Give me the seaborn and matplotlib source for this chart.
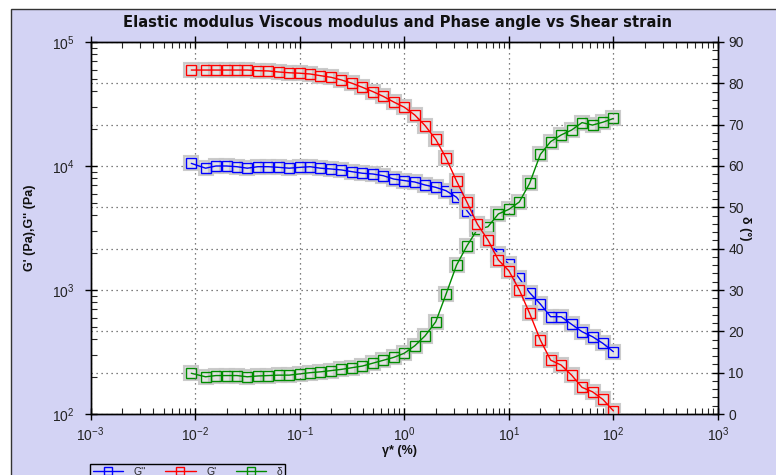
import numpy as np
import pandas as pd
import matplotlib
matplotlib.use("Agg")
import matplotlib.pyplot as plt
import seaborn as sns
from matplotlib.lines import Line2D
from matplotlib.patches import Rectangle
from matplotlib.ticker import LogLocator, MultipleLocator, NullFormatter

# ---------------- data ----------------
strain = [0.0092, 0.0126, 0.0158, 0.0200, 0.0251, 0.0316, 0.0398, 0.0501, 0.0631, 0.0794,
          0.100, 0.126, 0.158, 0.200, 0.251, 0.316, 0.398, 0.501, 0.631, 0.794,
          1.00, 1.26, 1.58, 2.00, 2.51, 3.16, 3.98, 5.01, 6.31, 7.94,
          10.0, 12.6, 15.8, 20.0, 25.1, 31.6, 39.8, 50.1, 63.1, 79.4, 100.0]

g_loss = [10500, 9600, 10000, 10000, 9870, 9600, 9870, 9870, 9750, 9600,
          9750, 9870, 9600, 9460, 9290, 9000, 8740, 8620, 8350, 7850,
          7630, 7430, 7030, 6730, 6320, 5600, 4360, 3400, 2530, 1950,
          1620, 1240, 951, 771, 609, 609, 529, 461, 420, 371, 318]

g_storage = [59400, 59400, 59400, 59400, 59400, 59400, 58700, 58400, 57300, 56500,
             56000, 55200, 53500, 51900, 49400, 46500, 43100, 39800, 36400, 32800,
             29800, 25800, 21200, 16400, 11600, 7570, 5100, 3390, 2530, 1745,
             1430, 1000, 649, 395, 272, 248, 206, 164, 151, 131, 106]

phase = [9.85, 9.0, 9.3, 9.3, 9.3, 9.0, 9.2, 9.3, 9.4, 9.4,
         9.7, 10.0, 10.2, 10.5, 10.8, 11.2, 11.6, 12.3, 13.0, 13.7,
         14.7, 16.5, 18.9, 22.3, 29.0, 36.0, 40.7, 44.7, 45.3, 48.4,
         49.5, 51.3, 55.8, 62.8, 65.9, 67.5, 68.7, 70.5, 69.9, 70.6, 71.5]

series_labels = ["G''", "G'", "\u03b4"]
series_colors = ["#0000ff", "#ff0000", "#008c00"]

title = "Elastic modulus Viscous modulus and Phase angle vs Shear strain"
xlabel = "\u03b3* (%)"
ylabel_left = "G' (Pa),G'' (Pa)"
ylabel_right = "\u03b4 (\u00b0)"

df = pd.DataFrame({"strain": strain, "Gpp": g_loss, "Gp": g_storage, "delta": phase})

# ---------------- style ----------------
sns.set_theme(style="white")
plt.rcParams["font.family"] = ["Liberation Sans", "DejaVu Sans"]
plt.rcParams["mathtext.fontset"] = "custom"
plt.rcParams["mathtext.rm"] = "Liberation Sans"
plt.rcParams["mathtext.it"] = "Liberation Sans:italic"
plt.rcParams["mathtext.bf"] = "Liberation Sans:bold"

W, H = 776, 475
lav = "#d3d3f4"
fig = plt.figure(figsize=(W / 100, H / 100), dpi=100, facecolor="white")
fig.patches.append(Rectangle((11 / W, -0.1), 1.2, 1 - 9 / H + 0.1, transform=fig.transFigure,
                             facecolor=lav, edgecolor="#333333", lw=1.0, zorder=-10))

x0, x1, y0, y1 = 90.5, 718, 42, 414
ax = fig.add_axes([x0 / W, 1 - y1 / H, (x1 - x0) / W, (y1 - y0) / H])
ax2 = ax.twinx()
ax.set_zorder(ax2.get_zorder() + 1)
ax.patch.set_visible(False)
ax2.patch.set_visible(True)
ax2.patch.set_facecolor("white")

halo = dict(lw=0, marker="s", markersize=10, markerfacecolor="#e0e0e0",
            markeredgecolor="#c6c6c6", markeredgewidth=1.5, alpha=0.9)

def draw(axis, ycol, color):
    sns.lineplot(data=df, x="strain", y=ycol, ax=axis, legend=False, color="gray", **halo)
    sns.lineplot(data=df, x="strain", y=ycol, ax=axis, legend=False, color=color, lw=1.0,
                 marker="s", markersize=6.5, markerfacecolor="none",
                 markeredgecolor=color, markeredgewidth=1.0)

draw(ax2, "delta", series_colors[2])
draw(ax, "Gpp", series_colors[0])
draw(ax, "Gp", series_colors[1])

ax.set_xscale("log")
ax.set_yscale("log")
ax.set_xlim(1e-3, 1e3)
ax.set_ylim(1e2, 1e5)
ax2.set_ylim(0, 90)

ax.xaxis.set_major_locator(LogLocator(base=10, numticks=10))
ax.xaxis.set_minor_locator(LogLocator(base=10, subs=np.arange(2, 10), numticks=20))
ax.xaxis.set_minor_formatter(NullFormatter())
ax.yaxis.set_major_locator(LogLocator(base=10, numticks=10))
ax.yaxis.set_minor_locator(LogLocator(base=10, subs=np.arange(2, 10), numticks=20))
ax.yaxis.set_minor_formatter(NullFormatter())
ax2.yaxis.set_major_locator(MultipleLocator(10))
ax2.yaxis.set_minor_locator(MultipleLocator(2))

tc = "#222222"
ax.tick_params(axis="x", which="major", direction="inout", length=9, width=1, top=True,
               bottom=True, labelsize=10, pad=4, colors="black", labelcolor=tc)
ax.tick_params(axis="x", which="minor", direction="in", length=4, width=0.8, top=True, bottom=True)
ax.tick_params(axis="y", which="major", direction="inout", length=9, width=1, left=True,
               right=False, labelsize=10, pad=7, colors="black", labelcolor=tc)
ax.tick_params(axis="y", which="minor", direction="in", length=4, width=0.8, left=True, right=False)
ax2.tick_params(axis="y", which="major", direction="inout", length=9, width=1, right=True,
                left=False, labelsize=10, pad=3, colors="black", labelcolor=tc)
ax2.tick_params(axis="y", which="minor", direction="in", length=4, width=0.8, right=True, left=False)

ax.set_xlabel("")
ax.set_ylabel("")
ax2.set_ylabel("")

ax.grid(True, which="major", axis="x", linestyle=(0, (1, 3)), color="#555555", lw=0.9)
ax.grid(False, axis="y")
ax2.grid(True, which="major", axis="y", linestyle=(0, (1, 3)), color="#555555", lw=0.9)

for a in (ax, ax2):
    for s in a.spines.values():
        s.set_color("black")
        s.set_linewidth(1.0)

fig.text(398 / W, 1 - 22 / H, title, ha="center", va="center", fontsize=10.6,
         fontweight="bold", color="#111111", family=["DejaVu Sans"])
fig.text(30 / W, 1 - 228 / H, ylabel_left, rotation=90, ha="center", va="center",
         fontsize=9, fontweight="bold", color="#111111")
fig.text(745 / W, 1 - 228 / H, ylabel_right, rotation=270, ha="center", va="center",
         fontsize=9, fontweight="bold", color="#111111")
fig.text(400 / W, 1 - 451 / H, xlabel, ha="center", va="center",
         fontsize=9, fontweight="bold", color="#111111")

handles = [Line2D([0], [0], color=c, lw=1, marker="s", markersize=6,
                  markerfacecolor="none", markeredgecolor=c) for c in series_colors]
leg = fig.legend(handles, series_labels, loc="upper left",
                 bbox_to_anchor=(90 / W, 1 - 464 / H), ncol=3, frameon=True, fancybox=False,
                 edgecolor="black", facecolor=lav, framealpha=1, fontsize=7.5,
                 handlelength=2.9, columnspacing=1.9, handletextpad=1.0, borderpad=0.25,
                 borderaxespad=0)
leg.get_frame().set_linewidth(1.0)

fig.savefig("out.png", dpi=100, facecolor=fig.get_facecolor())
